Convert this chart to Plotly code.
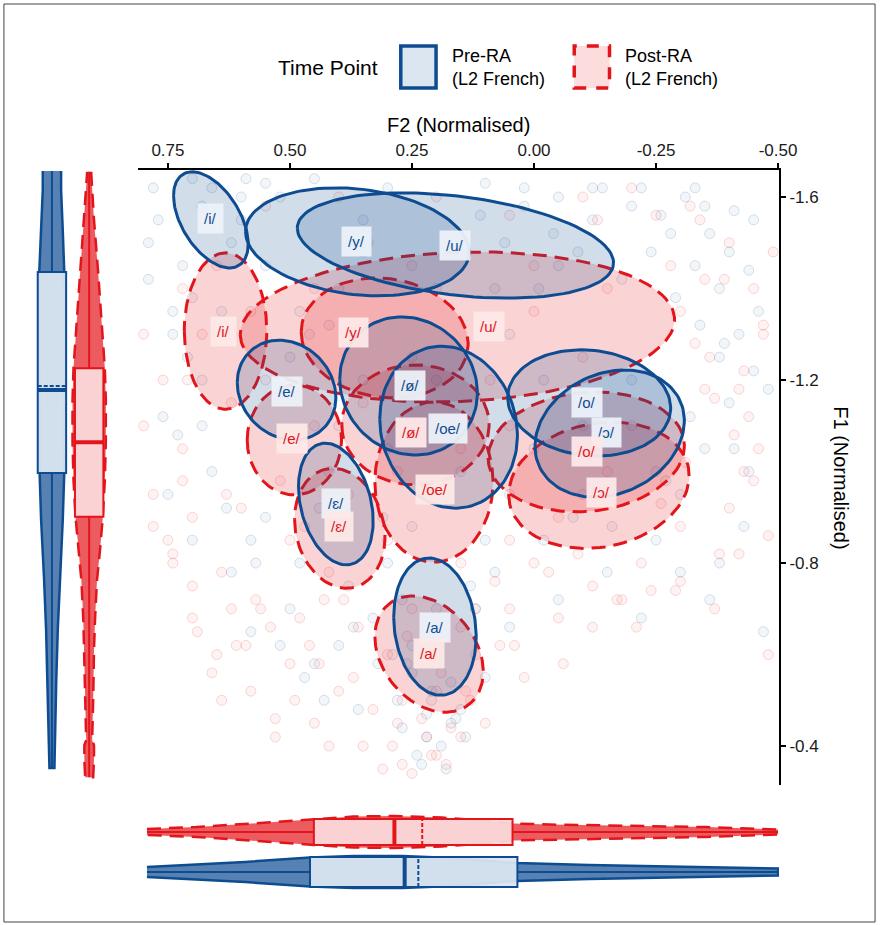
import numpy as np
import plotly.graph_objects as go

W, H = 896, 925

# ---------------- data ----------------
vowels = ["/i/", "/y/", "/u/", "/e/", "/ø/", "/oe/", "/o/", "/ɔ/", "/ɛ/", "/a/"]

# Pre-RA (L2 French): label positions (means)
pre_lab_f2 = [0.662, 0.364, 0.161, 0.507, 0.255, 0.177, -0.109, -0.149, 0.406, 0.203]
pre_lab_f1 = [-1.554, -1.502, -1.493, -1.174, -1.187, -1.095, -1.150, -1.086, -0.931, -0.660]
# Pre-RA ellipses: centre, half-extent along F2 / F1, correlation
pre_ell_f2 = [0.662, 0.362, 0.161, 0.507, 0.257, 0.175, -0.113, -0.155, 0.406, 0.203]
pre_ell_f1 = [-1.550, -1.502, -1.494, -1.178, -1.187, -1.097, -1.150, -1.083, -0.929, -0.661]
pre_ell_sf2 = [0.0765, 0.229, 0.324, 0.101, 0.141, 0.141, 0.167, 0.153, 0.0765, 0.0845]
pre_ell_sf1 = [0.105, 0.118, 0.115, 0.109, 0.151, 0.177, 0.116, 0.139, 0.133, 0.150]
pre_ell_r = [-0.5, -0.19, -0.33, -0.15, -0.1, -0.1, -0.1, 0.2, -0.28, -0.14]

# Post-RA (L2 French)
post_lab_f2 = [0.636, 0.370, 0.092, 0.495, 0.253, 0.203, -0.109, -0.139, 0.400, 0.215]
post_lab_f1 = [-1.307, -1.303, -1.318, -1.073, -1.086, -0.960, -1.043, -0.955, -0.879, -0.603]
post_ell_f2 = [0.632, 0.306, 0.157, 0.491, 0.243, 0.205, -0.107, -0.133, 0.398, 0.215]
post_ell_f1 = [-1.307, -1.292, -1.316, -1.069, -1.102, -0.977, -1.043, -0.970, -0.876, -0.601]
post_ell_sf2 = [0.0845, 0.171, 0.445, 0.0966, 0.151, 0.121, 0.201, 0.185, 0.0926, 0.111]
post_ell_sf1 = [0.171, 0.131, 0.164, 0.120, 0.131, 0.175, 0.131, 0.138, 0.131, 0.127]
post_ell_r = [0.0, -0.1, 0.1, 0.0, 0.0, 0.0, 0.1, 0.15, -0.15, -0.3]

# individual tokens (sample)
pre_pts_f2 = [0.78, 0.72, 0.70, 0.60, 0.55, 0.45, 0.30, 0.10, 0.02, -0.05, -0.12, -0.20, -0.28, -0.33, -0.38,
              -0.42, -0.45, -0.40, -0.35, -0.44, -0.30, -0.25, -0.38, -0.15, -0.05, 0.05, 0.10, 0.15, 0.22, 0.28,
              0.32, 0.40, 0.50, 0.58, 0.62, 0.70, 0.75, 0.66, 0.55, 0.48, 0.38, 0.30, 0.25, 0.10, 0.05, 0.00,
              -0.02, 0.05, 0.20, 0.40, 0.55, 0.62, 0.68, 0.50, 0.35, 0.20, 0.30, 0.42, 0.15, -0.10, -0.20, -0.25,
              -0.10, 0.20, 0.25, 0.18, 0.24, 0.60, 0.35, 0.15, -0.05, -0.18, 0.68, 0.62,
              -0.35, -0.40, -0.46, -0.48, -0.32, -0.27, -0.43, -0.36, -0.47, -0.30, -0.22, -0.41, -0.38, -0.45, -0.33,
              0.79, 0.74, 0.68, 0.63, 0.57, 0.52, 0.47, 0.43, 0.36, 0.33, 0.27, 0.12, 0.08, -0.02, -0.08,
              -0.16, -0.12, 0.70, 0.64, 0.46, 0.40, 0.17, 0.21, 0.26, 0.13, 0.08, 0.35, 0.44, 0.58, 0.73,
              -0.22, -0.26, -0.31, -0.36, -0.41, -0.44, -0.24, -0.29, -0.34, -0.39,
              0.16, 0.19, 0.23, 0.27, 0.21, 0.25, 0.17, 0.29, 0.14, 0.22,
              0.77, 0.79, 0.74, 0.71, 0.76, 0.66, 0.59, 0.52, 0.48, 0.42,
              0.02, -0.04, -0.09, 0.06, -0.14, 0.11, -0.01, 0.31, 0.37, 0.45]
pre_pts_f1 = [-1.62, -1.45, -1.38, -1.60, -1.63, -1.64, -1.62, -1.63, -1.58, -1.60, -1.55, -1.58, -1.52, -1.45, -1.40,
              -1.30, -1.22, -1.15, -1.05, -1.00, -0.95, -0.85, -0.80, -0.78, -0.72, -0.66, -0.55, -0.48, -0.42, -0.50,
              -0.58, -0.62, -0.70, -0.65, -0.78, -0.85, -0.95, -1.00, -0.90, -0.80, -0.75, -0.80, -0.88, -0.85, -0.95, -1.05,
              -1.20, -1.30, -1.40, -1.40, -1.45, -1.30, -1.20, -1.25, -1.20, -1.20, -1.05, -1.00, -1.00, -1.10, -1.20, -1.00,
              -0.95, -0.70, -0.62, -0.35, -0.38, -1.55, -1.55, -1.50, -1.45, -1.42, -1.58, -1.50,
              -1.58, -1.48, -1.35, -1.18, -1.12, -0.98, -0.88, -0.72, -0.65, -0.78, -0.68, -1.05, -1.25, -1.55, -1.62,
              -1.50, -1.30, -1.10, -0.92, -0.80, -0.62, -0.55, -0.50, -0.48, -0.68, -0.72, -0.70, -0.78, -0.85, -0.90,
              -0.88, -1.62, -1.64, -1.35, -1.30, -1.10, -0.45, -0.52, -0.58, -0.75, -1.40, -1.48, -0.92, -0.85, -1.08,
              -1.62, -1.56, -1.60, -1.52, -1.57, -1.44, -1.48, -1.38, -1.32, -1.28,
              -0.46, -0.40, -0.36, -0.44, -0.50, -0.56, -0.54, -0.60, -0.42, -0.47,
              -1.55, -1.42, -1.35, -1.25, -1.12, -1.62, -1.64, -1.60, -1.35, -1.32,
              -1.62, -1.52, -1.48, -1.50, -1.62, -1.56, -1.40, -0.90, -0.66, -0.58]
post_pts_f2 = [0.80, 0.76, 0.72, 0.78, 0.70, 0.65, 0.58, 0.50, 0.45, 0.35, 0.28, 0.20, 0.12, 0.05, -0.05, -0.12,
               -0.22, -0.30, -0.40, -0.46, -0.42, -0.36, -0.30, -0.45, -0.40, -0.32, -0.20, -0.10, 0.05, 0.20, 0.40,
               0.55, 0.65, 0.58, 0.68, 0.62, 0.55, 0.45, 0.35, 0.25, 0.10, 0.00, -0.10, -0.20, -0.15, -0.05, 0.05,
               0.15, 0.30, 0.42, 0.50, 0.60, 0.52, 0.38, 0.28, 0.15, 0.05, 0.25, 0.30, 0.15, 0.10, 0.02, 0.40, 0.48,
               0.62, 0.70, -0.28, -0.15, 0.00, 0.25, 0.45, 0.72, 0.20,
               -0.34, -0.39, -0.47, -0.44, -0.31, -0.26, -0.42, -0.37, -0.48, -0.29, -0.21, -0.43, -0.35, -0.49, -0.25,
               0.80, 0.75, 0.69, 0.64, 0.56, 0.53, 0.46, 0.42, 0.37, 0.31, 0.26, 0.14, 0.07, -0.03, -0.09,
               -0.17, -0.13, 0.71, 0.63, 0.47, 0.39, 0.18, 0.22, 0.27, 0.12, 0.09, 0.34, 0.43, 0.59, 0.74,
               0.78, 0.74, 0.70, 0.66, 0.61, 0.57, 0.53, 0.49, 0.72, 0.64,
               -0.33, -0.37, -0.41, -0.45, -0.48, -0.30, -0.38, -0.43, -0.35, -0.47,
               0.13, 0.17, 0.21, 0.25, 0.29, 0.33, 0.19, 0.23, 0.27, 0.15,
               0.04, -0.06, -0.12, -0.18, 0.08, 0.00, -0.24, 0.36, 0.44, 0.54]
post_pts_f1 = [-1.30, -1.20, -1.05, -0.95, -0.75, -0.60, -0.52, -0.58, -0.45, -0.40, -0.45, -0.52, -0.60, -0.70, -0.68, -0.75,
               -0.80, -0.88, -0.92, -1.05, -1.18, -1.25, -1.35, -1.40, -1.50, -1.58, -1.62, -1.60, -1.56, -1.60, -1.60,
               -1.58, -1.45, -1.35, -1.30, -1.15, -1.20, -1.10, -1.15, -1.25, -1.30, -1.35, -1.25, -1.10, -1.00, -0.90, -0.85,
               -0.80, -0.85, -0.78, -0.85, -0.92, -0.98, -0.95, -1.00, -1.05, -1.10, -0.70, -0.60, -0.66, -0.45, -0.55, -0.52, -0.68,
               -0.70, -0.90, -1.45, -1.40, -1.45, -1.45, -1.40, -1.40, -0.38,
               -1.55, -1.42, -1.30, -1.12, -1.02, -0.93, -0.82, -0.70, -0.60, -0.74, -0.66, -1.00, -1.18, -1.48, -1.56,
               -1.10, -0.85, -0.65, -0.50, -0.70, -0.42, -0.62, -0.40, -0.55, -0.35, -0.64, -0.52, -0.62, -0.78, -0.82,
               -0.72, -1.55, -1.20, -0.95, -0.88, -0.72, -0.36, -0.42, -0.50, -0.70, -1.20, -1.50, -0.72, -0.62, -0.82,
               -0.88, -0.80, -0.68, -0.56, -0.62, -0.72, -0.46, -0.50, -0.98, -0.78,
               -1.28, -1.16, -1.08, -0.98, -0.86, -0.76, -0.82, -1.22, -1.42, -1.32,
               -0.50, -0.44, -0.38, -0.34, -0.40, -0.48, -0.56, -0.46, -0.36, -0.42,
               -0.62, -0.58, -0.66, -0.72, -0.76, -0.80, -0.74, -0.66, -0.58, -0.66]

# marginal F1 densities (relative) and box statistics
f1_grid_pre = [-1.657, -1.615, -1.528, -1.436, -1.375, -1.266, -1.178, -1.091, -0.997, -0.894, -0.763, -0.654, -0.544, -0.435, -0.352]
f1_dens_pre = [0.55, 0.55, 0.65, 0.76, 0.80, 0.80, 0.78, 0.76, 0.74, 0.65, 0.47, 0.35, 0.26, 0.20, 0.15]
f1_grid_post = [-1.655, -1.550, -1.440, -1.331, -1.226, -1.156, -1.064, -0.981, -0.901, -0.828, -0.763, -0.675, -0.610, -0.501, -0.413, -0.402, -0.369, -0.332]
f1_dens_post = [0.12, 0.29, 0.53, 0.74, 0.94, 1.00, 1.00, 0.94, 0.82, 0.65, 0.47, 0.35, 0.29, 0.24, 0.18, 0.29, 0.29, 0.24]
f1_box_pre = dict(lowerfence=-1.657, q1=-1.436, median=-1.178, mean=-1.187, q3=-0.997, upperfence=-0.352)
f1_box_post = dict(lowerfence=-1.655, q1=-1.226, median=-1.064, mean=-1.064, q3=-0.901, upperfence=-0.332)

# marginal F2 densities (relative) and box statistics
f2_grid_pre = [0.793, 0.692, 0.592, 0.459, 0.370, 0.270, 0.169, 0.090, 0.034, -0.113, -0.314, -0.500]
f2_dens_pre = [0.29, 0.44, 0.59, 0.85, 0.94, 0.94, 0.82, 0.65, 0.53, 0.41, 0.29, 0.21]
f2_grid_post = [0.793, 0.692, 0.561, 0.451, 0.370, 0.290, 0.189, 0.090, 0.044, -0.032, -0.213, -0.354, -0.500]
f2_dens_post = [0.18, 0.29, 0.53, 0.76, 0.91, 0.94, 0.85, 0.65, 0.50, 0.44, 0.35, 0.29, 0.15]
f2_box_pre = dict(lowerfence=-0.500, q1=0.034, median=0.265, mean=0.237, q3=0.459, upperfence=0.793)
f2_box_post = dict(lowerfence=-0.500, q1=0.044, median=0.286, mean=0.229, q3=0.451, upperfence=0.793)

x_ticks = [0.75, 0.50, 0.25, 0.00, -0.25, -0.50]
y_ticks = [-1.6, -1.2, -0.8, -0.4]

# ---------------- styling ----------------
BLUE = "#0E4C92"
RED = "#E3151B"
BLUE_FILL = "rgba(14,76,146,0.19)"
RED_FILL = "rgba(227,21,27,0.19)"
BLUE_BOX = "rgba(220,230,241,0.93)"
RED_BOX = "rgba(252,220,220,0.93)"
DASH = "14px,8px"
FONT = "Liberation Sans, Arial, sans-serif"
HALF = 17.0  # px half-width for density 1


def px(x):
    return x / W


def py(y):
    return 1 - y / H


fig = go.Figure()

# tokens
fig.add_trace(go.Scatter(x=pre_pts_f2, y=pre_pts_f1, mode="markers", hoverinfo="skip",
                         marker=dict(size=10, color="rgba(14,76,146,0.05)",
                                     line=dict(color="rgba(14,76,146,0.16)", width=1))))
fig.add_trace(go.Scatter(x=post_pts_f2, y=post_pts_f1, mode="markers", hoverinfo="skip",
                         marker=dict(size=10, color="rgba(227,21,27,0.05)",
                                     line=dict(color="rgba(227,21,27,0.16)", width=1))))

t = np.linspace(0, 2 * np.pi, 120)


def ellipse(cx, cy, sx, sy, r):
    xs = cx + sx * np.cos(t)
    ys = cy + sy * (r * np.cos(t) + np.sqrt(1 - r * r) * np.sin(t))
    return xs, ys


for i in range(len(vowels)):
    xs, ys = ellipse(post_ell_f2[i], post_ell_f1[i], post_ell_sf2[i], post_ell_sf1[i], post_ell_r[i])
    fig.add_trace(go.Scatter(x=xs, y=ys, mode="lines", fill="toself", fillcolor=RED_FILL,
                             line=dict(color=RED, width=3, dash=DASH), hoverinfo="skip"))
for i in range(len(vowels)):
    xs, ys = ellipse(pre_ell_f2[i], pre_ell_f1[i], pre_ell_sf2[i], pre_ell_sf1[i], pre_ell_r[i])
    fig.add_trace(go.Scatter(x=xs, y=ys, mode="lines", fill="toself", fillcolor=BLUE_FILL,
                             line=dict(color=BLUE, width=3), hoverinfo="skip"))

# ---- left marginal (F1) ----
LEFT_C = {"pre": 53.0, "post": 91.0}
BOXW_LEFT = 29.0


def vviolin(center, grid, dens, color, fill, dash):
    xs = [center + d * HALF for d in dens] + [center - d * HALF for d in dens[::-1]]
    ys = list(grid) + list(grid[::-1])
    return go.Scatter(x=xs, y=ys, xaxis="x2", yaxis="y", mode="lines", fill="toself",
                      fillcolor=fill, line=dict(color=color, width=2.5, dash=dash),
                      hoverinfo="skip")


fig.add_trace(vviolin(LEFT_C["pre"], f1_grid_pre, f1_dens_pre, BLUE, "rgba(14,76,146,0.70)", "solid"))
fig.add_trace(vviolin(LEFT_C["post"], f1_grid_post, f1_dens_post, RED, "rgba(227,21,27,0.70)", DASH))
for key, st, col, fc in [("pre", f1_box_pre, BLUE, BLUE_BOX), ("post", f1_box_post, RED, RED_BOX)]:
    fig.add_trace(go.Box(x=[LEFT_C[key]], q1=[st["q1"]], median=[st["median"]], q3=[st["q3"]],
                         mean=[st["mean"]], lowerfence=[st["lowerfence"]], upperfence=[st["upperfence"]],
                         boxmean=True, width=BOXW_LEFT, whiskerwidth=0, fillcolor=fc,
                         line=dict(color=col, width=2), xaxis="x3", yaxis="y", hoverinfo="skip"))
    c = LEFT_C[key]
    fig.add_trace(go.Scatter(x=[c - BOXW_LEFT / 2, c + BOXW_LEFT / 2], y=[st["median"], st["median"]],
                             xaxis="x3", yaxis="y", mode="lines", line=dict(color=col, width=4),
                             hoverinfo="skip"))

# ---- bottom marginal (F2) ----
BOT_C = {"pre": 53.0, "post": 93.0}
BOXW_BOT = {"pre": 30.0, "post": 26.0}


def hviolin(center, grid, dens, color, fill, dash):
    ys = [center + d * HALF for d in dens] + [center - d * HALF for d in dens[::-1]]
    xs = list(grid) + list(grid[::-1])
    return go.Scatter(x=xs, y=ys, xaxis="x", yaxis="y2", mode="lines", fill="toself",
                      fillcolor=fill, line=dict(color=color, width=2.5, dash=dash),
                      hoverinfo="skip")


fig.add_trace(hviolin(BOT_C["post"], f2_grid_post, f2_dens_post, RED, "rgba(227,21,27,0.70)", DASH))
fig.add_trace(hviolin(BOT_C["pre"], f2_grid_pre, f2_dens_pre, BLUE, "rgba(14,76,146,0.70)", "solid"))
for key, st, col, fc in [("post", f2_box_post, RED, RED_BOX), ("pre", f2_box_pre, BLUE, BLUE_BOX)]:
    fig.add_trace(go.Box(y=[BOT_C[key]], q1=[st["q1"]], median=[st["median"]], q3=[st["q3"]],
                         mean=[st["mean"]], lowerfence=[st["lowerfence"]], upperfence=[st["upperfence"]],
                         orientation="h", boxmean=True, width=BOXW_BOT[key], whiskerwidth=0, fillcolor=fc,
                         line=dict(color=col, width=2), xaxis="x", yaxis="y3", hoverinfo="skip"))
    c = BOT_C[key]
    fig.add_trace(go.Scatter(x=[st["median"], st["median"]], y=[c - BOXW_BOT[key] / 2, c + BOXW_BOT[key] / 2],
                             xaxis="x", yaxis="y3", mode="lines", line=dict(color=col, width=4),
                             hoverinfo="skip"))

# ---- vowel labels ----
ann = []
for i, v in enumerate(vowels):
    ann.append(dict(x=pre_lab_f2[i], y=pre_lab_f1[i], xref="x", yref="y", text=v, showarrow=False,
                    xanchor="center", yanchor="middle",
                    font=dict(family=FONT, size=15, color=BLUE), bgcolor="rgba(236,241,248,0.95)",
                    borderpad=6))
for i, v in enumerate(vowels):
    ann.append(dict(x=post_lab_f2[i], y=post_lab_f1[i], xref="x", yref="y", text=v, showarrow=False,
                    xanchor="center", yanchor="middle",
                    font=dict(family=FONT, size=15, color=RED), bgcolor="rgba(253,232,232,0.95)",
                    borderpad=6))

# axis titles
ann.append(dict(x=px(468), y=py(125), xref="paper", yref="paper", text="F2 (Normalised)", showarrow=False,
                xanchor="center", yanchor="middle", font=dict(family=FONT, size=20, color="black")))
ann.append(dict(x=px(858), y=py(478), xref="paper", yref="paper", text="F1 (Normalised)", showarrow=False,
                xanchor="center", yanchor="middle", textangle=90,
                font=dict(family=FONT, size=20, color="black")))

# legend
ann.append(dict(x=px(335), y=py(67), xref="paper", yref="paper", text="Time Point", showarrow=False,
                xanchor="center", yanchor="middle", font=dict(family=FONT, size=21, color="black")))
ann.append(dict(x=px(459), y=py(67), xref="paper", yref="paper", text="Pre-RA<br>(L2 French)",
                showarrow=False, xanchor="left", yanchor="middle", align="left",
                font=dict(family=FONT, size=18, color="black")))
ann.append(dict(x=px(636), y=py(67), xref="paper", yref="paper", text="Post-RA<br>(L2 French)",
                showarrow=False, xanchor="left", yanchor="middle", align="left",
                font=dict(family=FONT, size=18, color="black")))

shapes = [
    dict(type="rect", xref="paper", yref="paper", x0=px(409), x1=px(445), y0=py(88), y1=py(46),
         fillcolor="#DCE6F1", line=dict(color=BLUE, width=3.5)),
    dict(type="rect", xref="paper", yref="paper", x0=px(586), x1=px(622), y0=py(88), y1=py(46),
         fillcolor="#FCDCDC", line=dict(color=RED, width=3.5, dash="12px,10px")),
    dict(type="rect", xref="paper", yref="paper", x0=px(4), x1=px(893), y0=py(922), y1=py(4),
         line=dict(color="#444444", width=1)),
]

fig.update_layout(
    width=W, height=H, margin=dict(l=0, r=0, t=0, b=0),
    paper_bgcolor="white", plot_bgcolor="rgba(0,0,0,0)", showlegend=False,
    annotations=ann, shapes=shapes,
    xaxis=dict(domain=[px(141), px(795)], range=[0.811, -0.502], side="top", anchor="y",
               tickvals=x_ticks, ticktext=["%.2f" % v for v in x_ticks], ticks="outside", ticklen=5,
               tickwidth=1.5, tickcolor="black", showline=True, linecolor="black", linewidth=2,
               showgrid=False, zeroline=False, tickfont=dict(family=FONT, size=17, color="#1a1a1a")),
    yaxis=dict(domain=[py(785), py(170)], range=[-0.315, -1.659], side="right", anchor="x",
               tickvals=y_ticks, ticktext=["%.1f" % v for v in y_ticks], ticks="outside", ticklen=5,
               tickwidth=1.5, tickcolor="black", showline=True, linecolor="black", linewidth=2,
               showgrid=False, zeroline=False, tickfont=dict(family=FONT, size=17, color="#1a1a1a")),
    xaxis2=dict(domain=[0, px(134.4)], range=[0, 134.4], anchor="y", visible=False),
    xaxis3=dict(range=[0, 134.4], anchor="y", overlaying="x2", visible=False),
    yaxis2=dict(domain=[0, 120 / H], range=[0, 120], anchor="x", visible=False),
    yaxis3=dict(range=[0, 120], anchor="x", overlaying="y2", visible=False),
)

fig.write_html("out.html")
